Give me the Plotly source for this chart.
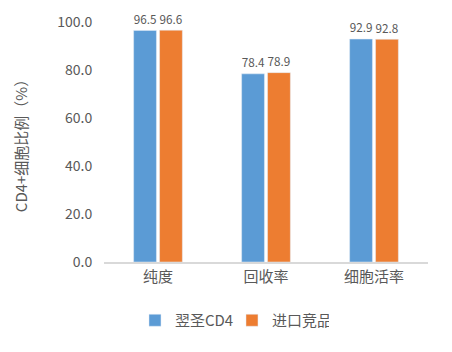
import plotly.graph_objects as go

categories = ["纯度", "回收率", "细胞活率"]
series_a = [96.5, 78.4, 92.9]
series_b = [96.6, 78.9, 92.8]
names = ["翌圣CD4", "进口竞品"]
yticks = [0, 20, 40, 60, 80, 100]

font = "Noto Sans CJK SC, Noto Sans, sans-serif"
fig = go.Figure()
for name, vals, col in [(names[0], series_a, "#5b9bd5"), (names[1], series_b, "#ed7d31")]:
    fig.add_trace(go.Bar(
        x=categories, y=vals, name=name, marker_color=col,
        text=[f"{v:.1f}" for v in vals], textposition="outside",
        textfont=dict(size=13, color="#595959"), cliponaxis=False,
    ))

fig.update_layout(
    width=452, height=352,
    margin=dict(l=104, r=24, t=22, b=90),
    plot_bgcolor="white", paper_bgcolor="white",
    font=dict(family=font, color="#595959", size=15),
    bargap=0.52, bargroupgap=0.12,
    showlegend=True,
    legend=dict(orientation="h", x=0.395, xanchor="center", y=-0.175, yanchor="top",
                font=dict(size=15, color="#595959"), itemwidth=30,
                entrywidth=52, entrywidthmode="pixels"),
    xaxis=dict(showline=True, linecolor="#d9d9d9", linewidth=1.5, ticks="",
               tickfont=dict(size=15, color="#595959")),
    yaxis=dict(range=[0, 100], tickvals=yticks, ticktext=[f"{v:.1f}" for v in yticks],
               showgrid=False, zeroline=False, showline=False,
               tickfont=dict(size=14, color="#595959"), ticklen=8, tickcolor="white", ticks="outside",
               title=dict(text="CD4+细胞比例（%）", font=dict(size=15, color="#595959"), standoff=25)),
)
fig.write_html("out.html")
